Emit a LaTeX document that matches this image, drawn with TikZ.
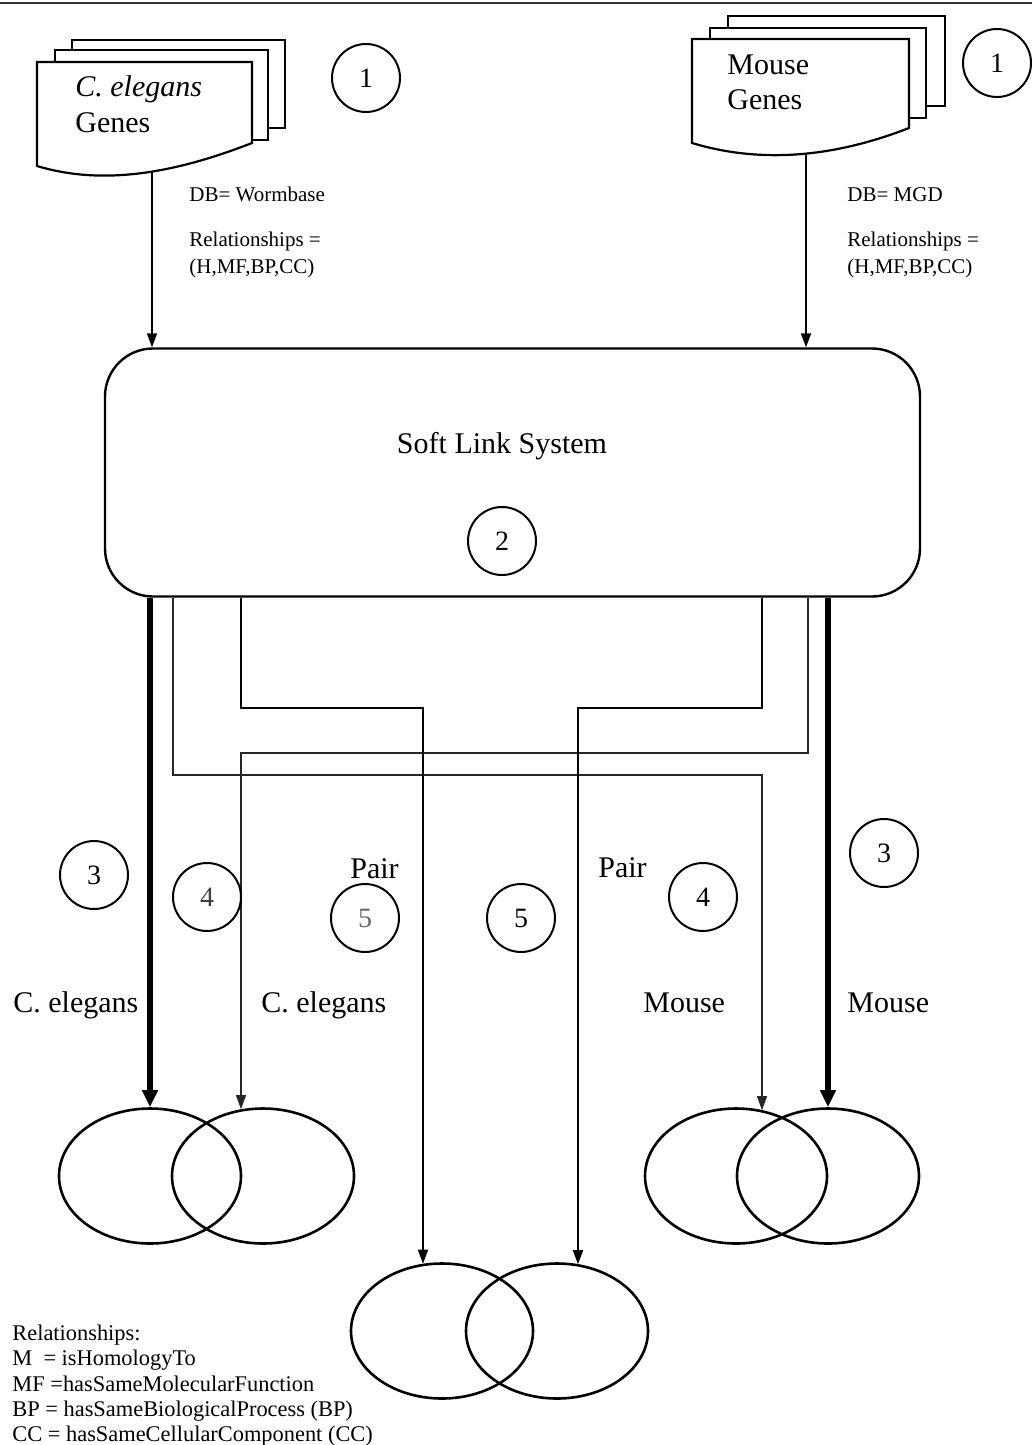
\documentclass[tikz,border=0pt]{standalone}
\usepackage{fontspec}
\setmainfont{Liberation Serif}
\usetikzlibrary{arrows.meta,shapes.geometric,calc}
\begin{document}
\begin{tikzpicture}[x=0.5pt,y=-0.5pt,
  lbl/.style={inner sep=0pt, font=\fontsize{15}{18}\selectfont},
  small/.style={inner sep=0pt, font=\fontsize{10.5}{12}\selectfont},
  legtxt/.style={inner sep=0pt, anchor=base west, font=\fontsize{11.2}{13}\selectfont},
  num/.style={circle, draw, line width=1pt, minimum size=34pt, inner sep=0pt, font=\fontsize{14}{16}\selectfont},
  setell/.style={ellipse, draw, line width=1.3pt, minimum width=91pt, minimum height=67.5pt, inner sep=0pt},
  heavy/.style={line width=3pt, -{Triangle[length=8.5pt,width=7.5pt]}},
  link/.style={line width=0.8pt, -{Triangle[length=7pt,width=5pt]}},
  faint/.style={line width=0.6pt, draw=black!85, -{Triangle[length=7pt,width=5pt]}},
  page/.style={draw, fill=white, line width=1.1pt, line join=miter}
]
\path[use as bounding box] (0,0) rectangle (1032,1445);
\draw[line width=1pt, black!80] (0,3) -- (1032,3);

% C. elegans document stack
\draw[page] (72,40) rectangle (285,128);
\draw[page] (55,50) rectangle (268,140);
\draw[page] (37,62) -- (252,62) -- (252,143) .. controls (170,175) and (100,185) .. (37,166) -- cycle;
\node[lbl, anchor=base west] (celT1) at (75,97) {\textit{C. elegans}};
\node[lbl, anchor=base west] (celT2) at (75,133) {Genes};
\coordinate (celDoc) at (152,172);

% Mouse document stack
\draw[page] (728,16) rectangle (945,106);
\draw[page] (710,28) rectangle (926,118);
\draw[page] (692,39) -- (909,39) -- (909,128) .. controls (827,160) and (755,162) .. (692,143) -- cycle;
\node[lbl, anchor=base west] (mouT1) at (727,75) {Mouse};
\node[lbl, anchor=base west] (mouT2) at (727,110) {Genes};
\coordinate (mouDoc) at (806,153);

\node[num] (n1a) at (366,78) {1};
\node[num] (n1b) at (997,63) {1};

% Soft link system
\node[draw, line width=1.2pt, rounded corners=24pt, minimum width=407.5pt, minimum height=124pt, inner sep=0pt] (box) at (512.5,472.5) {};
\node[inner sep=0pt, font=\fontsize{15}{18}\selectfont] (sls) at (502,446) {Soft Link System};
\node[num] (n2) at (502,541) {2};

\draw[link] (celDoc) -- (celDoc |- box.north);
\draw[link] (mouDoc) -- (mouDoc |- box.north);

\node[small, anchor=base west] (db1) at (189,201) {DB= Wormbase};
\node[small, anchor=base west] (rel1) at (189,246) {Relationships =};
\node[small, anchor=base west] (hl1) at (189,273) {(H,MF,BP,CC)};
\node[small, anchor=base west] (db2) at (847,201) {DB= MGD};
\node[small, anchor=base west] (rel2) at (847,246) {Relationships =};
\node[small, anchor=base west] (hl2) at (847,273) {(H,MF,BP,CC)};

% Sets
\node[setell] (eA) at (150,1176) {};
\node[setell] (eB) at (263,1176) {};
\node[setell] (eG) at (736,1176) {};
\node[setell] (eH) at (828,1176) {};
\node[setell] (eE) at (442,1331) {};
\node[setell] (eF) at (557,1331) {};

% Connectors
\draw[heavy] (box.south -| eA.north) -- (eA.north);
\draw[heavy] (box.south -| eH.north) -- (eH.north);
\coordinate (t5) at ($(eB.north)+(-22,2)$);
\coordinate (b5) at (808,753);
\coordinate (b3) at (241,708);
\coordinate (t3) at ($(eE.north)+(-19,1.5)$);
\coordinate (t2) at ($(eG.north)+(26,3)$);
\coordinate (b2) at (173,775);
\coordinate (b4) at (762,708);
\coordinate (t4) at ($(eF.north)+(21,2)$);
\draw[faint] (box.south -| b2) -- (b2) -| (t2);
\draw[faint] (box.south -| b5) -- (b5) -| (t5);
\draw[link] (box.south -| b3) -- (b3) -| (t3);
\draw[link] (box.south -| b4) -- (b4) -| (t4);

% Labels
\node[lbl, anchor=base west] (lc1) at (13,1012) {C. elegans};
\node[lbl, anchor=base west] (lc2) at (261,1012) {C. elegans};
\node[lbl, anchor=base west] (lm1) at (643,1012) {Mouse};
\node[lbl, anchor=base west] (lm2) at (847,1012) {Mouse};
\node[lbl, anchor=base west] (p1) at (350,878) {Pair};
\node[lbl, anchor=base west] (p2) at (598,877) {Pair};
\node[num] (n3a) at (94,875) {3};
\node[num, text=black!75] (n4a) at (207,897) {4};
\node[num, text=black!60] (n5a) at (365,918) {5};
\node[num] (n5b) at (521,918) {5};
\node[num] (n4b) at (703,897) {4};
\node[num] (n3b) at (884,853) {3};

% Legend
\node[legtxt] (leg1) at (12,1340) {Relationships:};
\node[legtxt] (leg2) at (12,1365.5) {M\ \ = isHomologyTo};
\node[legtxt] (leg3) at (12,1391) {MF =hasSameMolecularFunction};
\node[legtxt] (leg4) at (12,1416.5) {BP = hasSameBiologicalProcess (BP)};
\node[legtxt] (leg5) at (12,1441) {CC = hasSameCellularComponent (CC)};
\end{tikzpicture}
\end{document}
